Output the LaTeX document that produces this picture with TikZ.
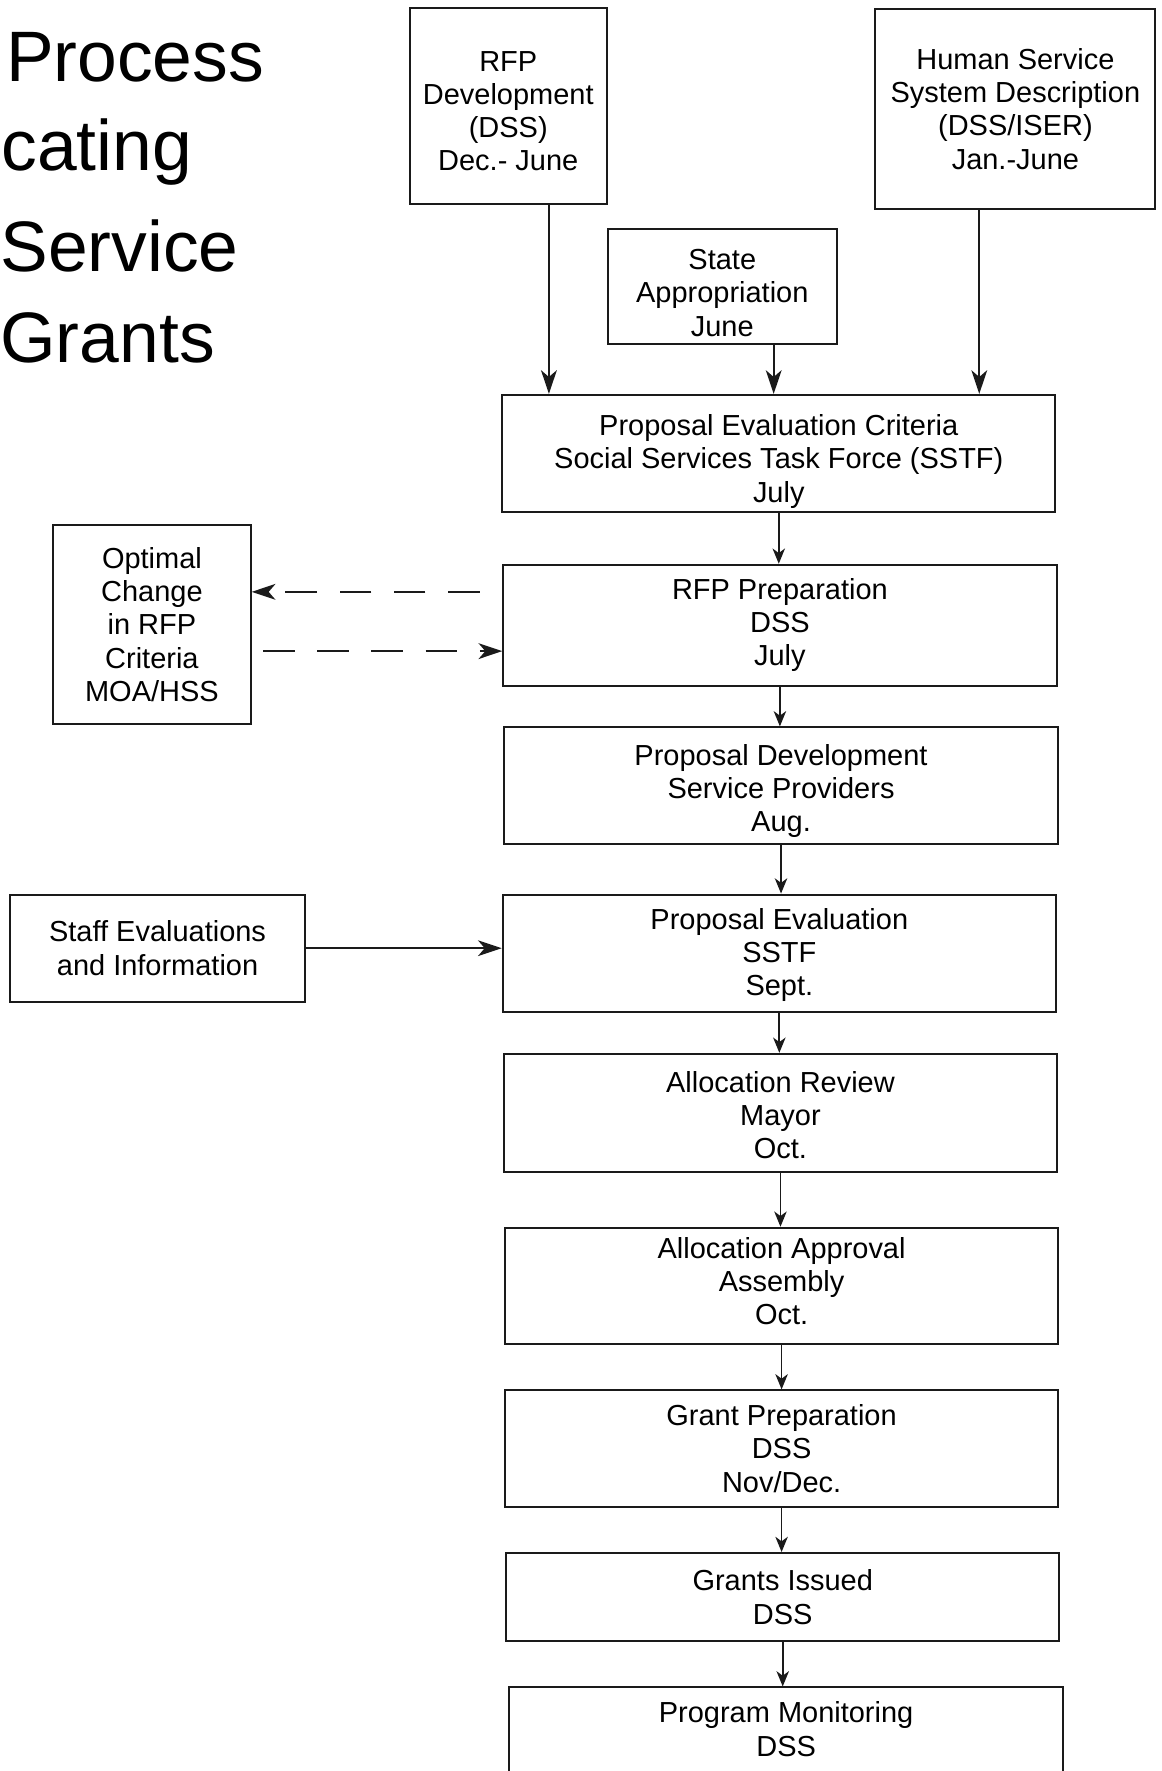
\documentclass[tikz,border=0pt]{standalone}
\usepackage{fontspec}
\setmainfont{Liberation Sans}
\usetikzlibrary{arrows.meta,calc}
\definecolor{ink}{HTML}{1A1A1A}
\newcommand{\lowerby}[1]{\rule{0pt}{#1}}

\begin{document}
\begin{tikzpicture}[x=0.02cm,y=-0.02cm,
  box/.style={draw=ink,line width=1pt,align=center,inner sep=2pt,font=\fontsize{14.6}{16.7}\selectfont},
  lift/.style={execute at end node={\rule[-#1]{0pt}{0pt}}},
  feed/.style={-{Stealth[length=0.42cm,width=0.28cm,inset=0.12cm]},line width=0.9pt,ink},
  link/.style={-{Stealth[length=0.27cm,width=0.22cm,inset=0.08cm]},line width=0.9pt,ink},
  title/.style={anchor=base west,inner sep=0pt,font=\fontsize{36}{40}\selectfont}]
\useasboundingbox (0,0) rectangle (1028,1568);
\clip (0,0) rectangle (1028,1568);
% heading, cut off at the left edge
\node[title] (t1) at (5,72) {Process};
\node[title] (t2) at (1,151) {cating};
\node[title] (t3) at (0,240) {Service};
\node[title] (t4) at (0,321) {Grants};
% inputs at the top
\node[box,minimum width=3.48cm,minimum height=3.48cm] (rfpdev) at (450,94) {\lowerby{15.2pt}RFP\\Development\\(DSS)\\Dec.- June};
\node[box,minimum width=4.96cm,minimum height=3.54cm] (hsdesc) at (899,96.5) {Human Service\\System Description\\(DSS/ISER)\\Jan.-June};
\node[box,minimum width=4.06cm,minimum height=2.04cm] (stapp) at (639.5,254) {\lowerby{16.3pt}State\\Appropriation\\June};
% main column
\foreach \id/\x/\y/\h/\dr/\lf/\t in {
crit/689.5/401.5/2.06/18.6pt/0pt/{Proposal Evaluation Criteria\\Social Services Task Force (SSTF)\\July},
rfpprep/690.5/553.5/2.14/0pt/0pt/{RFP Preparation\\DSS\\July},
propdev/691.5/695.5/2.06/16.3pt/0pt/{Proposal Development\\Service Providers\\Aug.},
propeval/690/844/2.08/12pt/0pt/{Proposal Evaluation\\SSTF\\Sept.},
allocrev/691/985.5/2.1/13pt/0pt/{Allocation Review\\Mayor\\Oct.},
allocapp/692/1138.5/2.06/0pt/4.6pt/{Allocation Approval\\Assembly\\Oct.},
grantprep/692/1282.5/2.06/0pt/0pt/{Grant Preparation\\DSS\\Nov/Dec.},
issued/693/1414/1.56/0pt/0pt/{Grants Issued\\DSS},
monitor/696/1535/1.64/0pt/4.8pt/{Program Monitoring\\DSS}}
{
  \node[box,lift=\lf,minimum width=9.8cm,minimum height=\h cm] (\id) at (\x,\y) {\lowerby{\dr}\t};
}
\foreach \a/\b in {crit/rfpprep,rfpprep/propdev,propdev/propeval,propeval/allocrev,allocrev/allocapp,allocapp/grantprep,grantprep/issued,issued/monitor}{\draw[link] (\a.south) -- (\a.south |- \b.north);}
% side boxes
\node[box,minimum width=3.5cm,minimum height=3.52cm] (optchg) at (134.5,553) {Optimal\\Change\\in RFP\\Criteria\\MOA/HSS};
\node[box,minimum width=5.22cm,minimum height=1.9cm] (staffev) at (139.5,839.5) {Staff Evaluations\\and Information};
% feeds into the criteria
\coordinate (d1) at ([xshift=0.72cm]rfpdev.south);
\coordinate (d2) at ([xshift=0.91cm]stapp.south);
\coordinate (d3) at ([xshift=-0.64cm]hsdesc.south);
\foreach \c in {d1,d2,d3}{\draw[feed] (\c) -- (\c |- crit.north);}
% dashed loop with the RFP change box
\coordinate (back) at ([xshift=-0.4cm,yshift=0.59cm]rfpprep.west);
\coordinate (fwd) at ([xshift=0.2cm,yshift=-0.47cm]optchg.east);
\draw[feed,dash pattern=on 0.56cm off 0.4cm] (back) -- (back -| optchg.east);
\draw[feed,dash pattern=on 0.56cm off 0.4cm] (fwd) -- (fwd -| rfpprep.west);
\draw[feed] (staffev.east) -- (staffev.east -| propeval.west);
\end{tikzpicture}
\end{document}
